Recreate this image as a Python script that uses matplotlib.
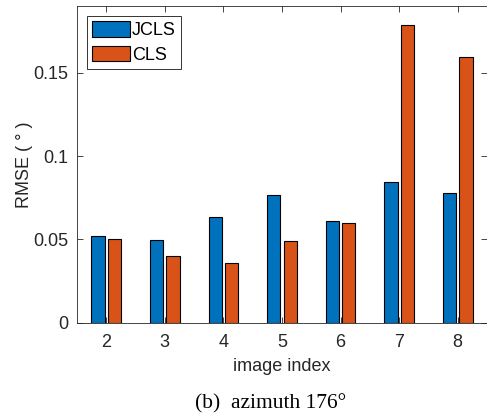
#! /usr/bin/env python3
import numpy as np
import matplotlib
matplotlib.use('Agg')
import matplotlib.pyplot as plt

image_index = [2, 3, 4, 5, 6, 7, 8]
rmse_jcls = [0.0520, 0.0498, 0.0634, 0.0768, 0.0608, 0.0842, 0.0776]
rmse_cls = [0.0502, 0.0400, 0.0356, 0.0488, 0.0596, 0.1786, 0.1592]

blue = '#0072BD'
orange = '#D95319'
axcol = '#262626'

plt.rcParams['font.family'] = ['Liberation Sans', 'DejaVu Sans']

fig = plt.figure(figsize=(4.87, 4.19), dpi=100)
ax = fig.add_axes([0.158, 0.2298, 0.842, 0.7559])

x = np.array(image_index, dtype=float)
w = 0.225
ax.bar(x - 0.14, rmse_jcls, w, color=blue, edgecolor='black',
       linewidth=0.8, label='JCLS')
ax.bar(x + 0.14, rmse_cls, w, color=orange, edgecolor='black',
       linewidth=0.8, label='CLS')

ax.set_xlim(1.5, 8.5)
ax.set_ylim(0, 0.19)
ax.set_xticks(image_index)
ax.set_yticks([0, 0.05, 0.1, 0.15])
ax.set_yticklabels(['0', '0.05', '0.1', '0.15'])
ax.tick_params(direction='in', top=True, right=True, labelsize=13,
               colors=axcol, length=4, width=0.6)
ax.tick_params(axis='x', pad=8)
ax.tick_params(axis='y', pad=6)
for s in ax.spines.values():
    s.set_color(axcol)
    s.set_linewidth(0.6)
ax.set_xlabel('image index', fontsize=13, color=axcol, labelpad=5)
ax.set_ylabel('RMSE ( ° )', fontsize=13, color=axcol, labelpad=0)

leg = ax.legend(loc='upper left', fontsize=13, frameon=True, fancybox=False,
                edgecolor='black', borderpad=0.3, handlelength=2.1,
                handleheight=0.95, handletextpad=0.1, labelspacing=0.35,
                borderaxespad=0.55)
leg.get_frame().set_linewidth(0.7)

fig.text(0.556, 0.037, '(b)  azimuth 176°', ha='center', va='center',
         fontsize=15.5, family=['Liberation Serif', 'DejaVu Serif'])

fig.savefig('out.png', dpi=100)
